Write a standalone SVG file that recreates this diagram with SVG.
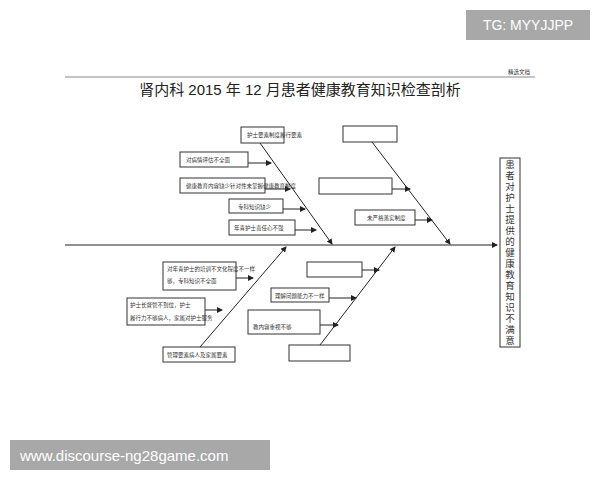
<svg xmlns="http://www.w3.org/2000/svg" width="600" height="480" viewBox="0 0 600 480">
<style>
.b{fill:#fff;stroke:#333;stroke-width:1}
.t{font-family:"Liberation Serif","Noto Sans CJK SC",serif;font-size:5.5px;fill:#333}
.l{stroke:#222;stroke-width:1;fill:none}
</style>
<defs><marker id="a" markerWidth="6" markerHeight="6" refX="5" refY="3" orient="auto" markerUnits="userSpaceOnUse"><path d="M0,0L6,3L0,6z" fill="#222"/></marker></defs>
<rect width="600" height="480" fill="#fff"/>
<g id="banner-top"><rect x="466" y="10" width="124" height="30" fill="#a8a8a8"/><text x="528" y="30" text-anchor="middle" font-family="Liberation Sans,sans-serif" font-size="14" fill="#fff">TG: MYYJJPP</text></g>
<g id="banner-bottom"><rect x="10" y="440" width="260" height="30" fill="#a8a8a8"/><text x="20" y="461" font-family="Liberation Sans,sans-serif" font-size="15" fill="#fff">www.discourse-ng28game.com</text></g>
<g id="header"><line x1="65" y1="77" x2="535" y2="77" stroke="#888"/><text x="530" y="74" text-anchor="end" class="t" font-size="5">精选文档</text>
<text x="300" y="95" text-anchor="middle" font-family="Liberation Sans,'Noto Sans CJK SC',sans-serif" font-size="15" fill="#222">肾内科 2015 年 12 月患者健康教育知识检查剖析</text></g>
<g id="connectors">
<line class="l" x1="65" y1="245" x2="497" y2="245" marker-end="url(#a)"/>
<line class="l" x1="260" y1="143" x2="332" y2="244" marker-end="url(#a)"/>
<line class="l" x1="372" y1="142" x2="450" y2="244" marker-end="url(#a)"/>
<line class="l" x1="200" y1="347" x2="286" y2="247" marker-end="url(#a)"/>
<line class="l" x1="320" y1="345" x2="395" y2="247" marker-end="url(#a)"/>
<line class="l" x1="248" y1="163" x2="271" y2="163" marker-end="url(#a)"/>
<line class="l" x1="265" y1="189" x2="290" y2="189" marker-end="url(#a)"/>
<line class="l" x1="283" y1="209" x2="305" y2="209" marker-end="url(#a)"/>
<line class="l" x1="295" y1="230" x2="316" y2="230" marker-end="url(#a)"/>
<line class="l" x1="392" y1="189" x2="410" y2="189" marker-end="url(#a)"/>
<line class="l" x1="415" y1="220" x2="432" y2="220" marker-end="url(#a)"/>
<line class="l" x1="236" y1="278" x2="253" y2="278" marker-end="url(#a)"/>
<line class="l" x1="205" y1="310" x2="222" y2="310" marker-end="url(#a)"/>
<line class="l" x1="362" y1="270" x2="379" y2="270" marker-end="url(#a)"/>
<line class="l" x1="329" y1="298" x2="356" y2="298" marker-end="url(#a)"/>
<line class="l" x1="320" y1="325" x2="338" y2="325" marker-end="url(#a)"/>
</g>
<g id="n1"><rect class="b" x="241" y="127" width="43" height="16"/><text class="t" x="247" y="137">护士要素制度履行要素</text></g>
<g id="n2"><rect class="b" x="343" y="126" width="54" height="16"/></g>
<g id="n3"><rect class="b" x="180" y="152" width="68" height="15"/><text class="t" x="186" y="162">对病情评估不全面</text></g>
<g id="n4"><rect class="b" x="180" y="178" width="85" height="15"/><text class="t" x="186" y="188">健康教育内容缺少针对性未掌握健康教育制度</text></g>
<g id="n5"><rect class="b" x="229" y="199" width="54" height="14"/><text class="t" x="238" y="209">专科知识缺少</text></g>
<g id="n6"><rect class="b" x="229" y="220" width="66" height="15"/><text class="t" x="234" y="230">年青护士责任心不强</text></g>
<g id="n7"><rect class="b" x="319" y="178" width="73" height="16"/></g>
<g id="n8"><rect class="b" x="355" y="210" width="60" height="15"/><text class="t" x="367" y="220">未严格落实制度</text></g>
<g id="n9"><rect class="b" x="163" y="262" width="73" height="28"/><text class="t" x="167" y="271">对年青护士的培训不文化程度不一样</text><text class="t" x="167" y="283">够，专科知识不全面</text></g>
<g id="n10"><rect class="b" x="127" y="298" width="78" height="27"/><text class="t" x="130" y="307">护士长督管不到位，护士</text><text class="t" x="130" y="320">履行力不够病人，家属对护士服务</text></g>
<g id="n11"><rect class="b" x="163" y="347" width="72" height="15"/><text class="t" x="167" y="357">管理要素病人及家属要素</text></g>
<g id="n12"><rect class="b" x="307" y="262" width="55" height="15"/></g>
<g id="n13"><rect class="b" x="271" y="288" width="58" height="14"/><text class="t" x="275" y="298">理解问题能力不一样</text></g>
<g id="n14"><rect class="b" x="248" y="310" width="72" height="24"/><text class="t" x="253" y="329">教内容重视不够</text></g>
<g id="n15"><rect class="b" x="289" y="345" width="61" height="16"/></g>
<g id="effect"><rect class="b" x="500" y="158" width="20" height="189"/>
<text font-family="Liberation Serif,'Noto Sans CJK SC',serif" font-size="9.5" fill="#333" text-anchor="middle"><tspan x="510" y="168">患</tspan><tspan x="510" y="179">者</tspan><tspan x="510" y="190">对</tspan><tspan x="510" y="201">护</tspan><tspan x="510" y="212">士</tspan><tspan x="510" y="223">提</tspan><tspan x="510" y="234">供</tspan><tspan x="510" y="245">的</tspan><tspan x="510" y="256">健</tspan><tspan x="510" y="267">康</tspan><tspan x="510" y="278">教</tspan><tspan x="510" y="289">育</tspan><tspan x="510" y="300">知</tspan><tspan x="510" y="311">识</tspan><tspan x="510" y="322">不</tspan><tspan x="510" y="333">满</tspan><tspan x="510" y="344">意</tspan></text></g>
</svg>
